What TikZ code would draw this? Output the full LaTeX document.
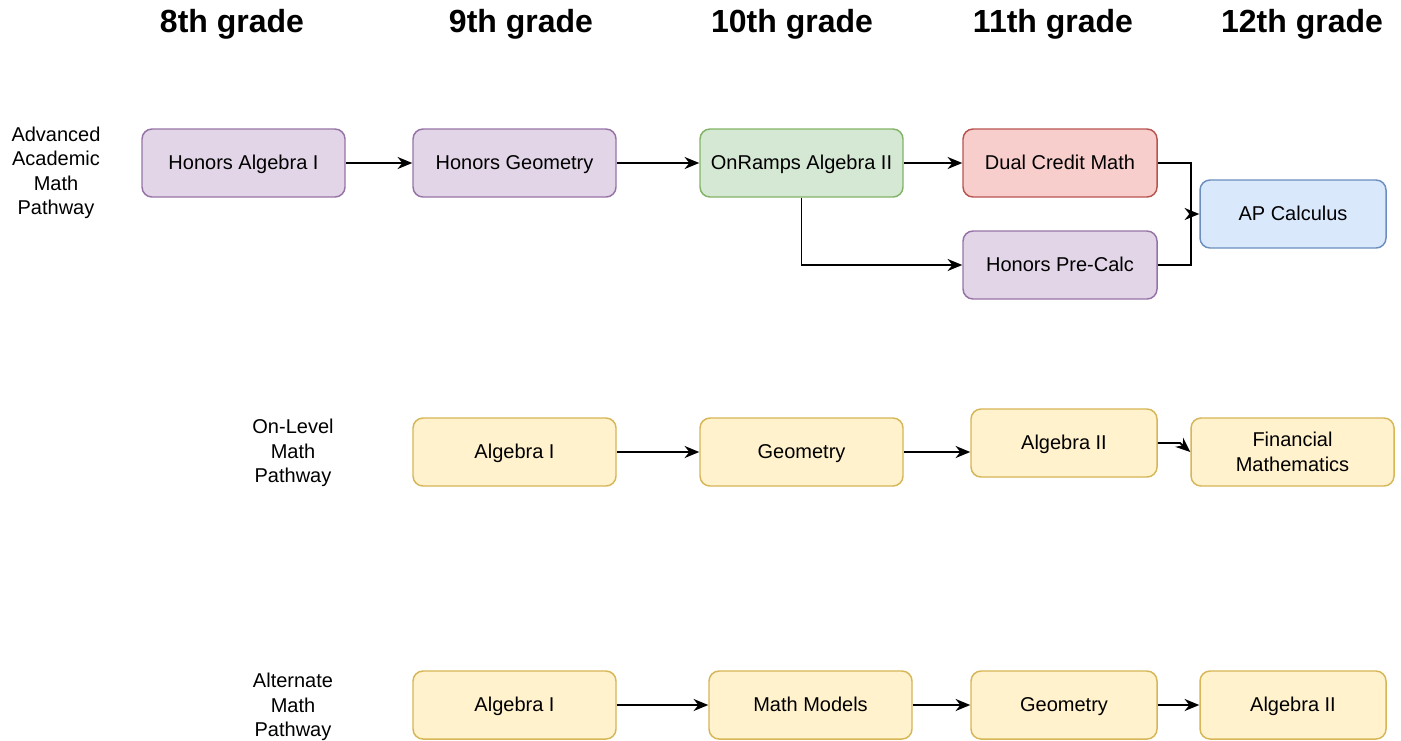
\documentclass[tikz,border=0pt]{standalone}
\usepackage{fontspec}
\setmainfont{Liberation Sans}
\usetikzlibrary{arrows.meta}
\definecolor{purF}{HTML}{E1D5E7}\definecolor{purS}{HTML}{9673A6}
\definecolor{grnF}{HTML}{D5E8D4}\definecolor{grnS}{HTML}{82B366}
\definecolor{redF}{HTML}{F8CECC}\definecolor{redS}{HTML}{B85450}
\definecolor{bluF}{HTML}{DAE8FC}\definecolor{bluS}{HTML}{6C8EBF}
\definecolor{ylwF}{HTML}{FFF2CC}\definecolor{ylwS}{HTML}{D6B656}
\begin{document}
\begin{tikzpicture}[x=0.75pt,y=-0.75pt,
  course/.style={rounded corners=7.5pt,line width=1.1pt,minimum height=51pt,inner sep=0pt,
    font=\fontsize{15}{18.4}\selectfont,text height=13pt,text depth=3pt},
  twoline/.style={text height=,text depth=,align=center},
  wA/.style={minimum width=152.25pt},
  wB/.style={minimum width=145.5pt},
  wC/.style={minimum width=139.5pt},
  pur/.style={course,draw=purS,fill=purF},
  grn/.style={course,draw=grnS,fill=grnF},
  red/.style={course,draw=redS,fill=redF},
  blu/.style={course,draw=bluS,fill=bluF},
  ylw/.style={course,draw=ylwS,fill=ylwF},
  head/.style={font=\fontsize{24}{28}\selectfont\bfseries},
  lab/.style={font=\fontsize{15}{18.4}\selectfont,align=center},
  conn/.style={line width=1.4pt,-{Stealth[length=11pt,width=9pt,inset=3.5pt]}}
]
\useasboundingbox (0,0) rectangle (1401,740);
% headers
\node[head] (h8) at (232,24) {8th grade};
\node[head] (h9) at (521,24) {9th grade};
\node[head] (h10) at (792,24) {10th grade};
\node[head] (h11) at (1053,24) {11th grade};
\node[head] (h12) at (1302,24) {12th grade};
% row labels
\node[lab] (l1) at (56,173) {Advanced\\Academic\\Math\\Pathway};
\node[lab] (l2) at (293,453) {On-Level\\Math\\Pathway};
\node[lab] (l3) at (293,707) {Alternate\\Math\\Pathway};
% row 1
\node[pur,wA] (ha1) at (243.5,163) {Honors Algebra I};
\node[pur,wA] (hg) at (514.5,163) {Honors Geometry};
\node[grn,wA] (or2) at (801.5,163) {OnRamps Algebra II};
\node[red,wB] (dc) at (1060,163) {Dual Credit Math};
\node[pur,wB] (hpc) at (1060,265) {Honors Pre-Calc};
\node[blu,wC] (ap) at (1293,214) {AP Calculus};
% row 2
\node[ylw,wA] (a1b) at (514.5,452) {Algebra I};
\node[ylw,wA] (geob) at (801.5,452) {Geometry};
\node[ylw,wC] (a2b) at (1064,443) {Algebra II};
\node[ylw,wA,twoline] (fin) at (1292.5,452) {Financial\\Mathematics};
% row 3
\node[ylw,wA] (a1c) at (514.5,705) {Algebra I};
\node[ylw,wA] (mm) at (810.5,705) {Math Models};
\node[ylw,wC] (geoc) at (1064,705) {Geometry};
\node[ylw,wC] (a2c) at (1293,705) {Algebra II};
% connectors
\coordinate (mergeP) at (1191,214);
\draw[conn] (ha1) -- (hg);
\draw[conn] (hg) -- (or2);
\draw[conn] (or2) -- (dc);
\draw[conn] (or2.south) |- (hpc.west);
\draw[line width=1.4pt] (hpc.east) -| (mergeP);
\draw[conn] (dc.east) -| (mergeP) -- (ap.west);
\draw[conn] (a1b) -- (geob);
\draw[conn] (geob.east) -- (geob.east -| a2b.west);
\coordinate (bendF) at (1180,443);
\draw[conn] (a2b.east) -- (bendF) -- (fin.west);
\draw[conn] (a1c) -- (mm);
\draw[conn] (mm) -- (geoc);
\draw[conn] (geoc) -- (a2c);
\end{tikzpicture}
\end{document}
